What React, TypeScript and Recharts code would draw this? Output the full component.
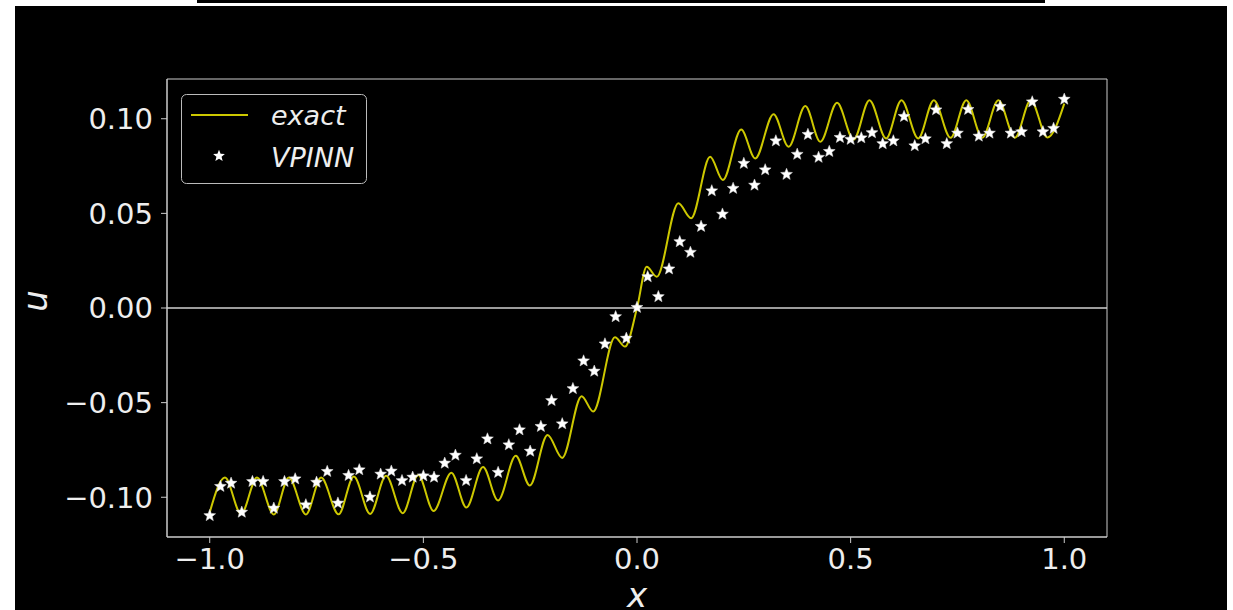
import React from "react";
import {
  ComposedChart,
  Line,
  Scatter,
  XAxis,
  YAxis,
  ReferenceLine,
  ReferenceArea,
  Legend,
  Label,
} from "recharts";

// exact solution: at its peaks and troughs
const exactX = [
  -1.0, -0.9644, -0.9266, -0.8894, -0.85, -0.8147, -0.7749, -0.7393, -0.6984, -0.6628,
  -0.6245, -0.5874, -0.5482, -0.5121, -0.476, -0.4345, -0.3993, -0.3604, -0.3252, -0.2837,
  -0.2509, -0.2094, -0.1751, -0.1297, -0.1025, -0.0516, -0.0281, 0.0, 0.0227, 0.0462,
  0.0968, 0.1266, 0.1712, 0.2009, 0.2438, 0.2767, 0.3196, 0.3548, 0.3939, 0.4291,
  0.4682, 0.507, 0.544, 0.5831, 0.619, 0.6582, 0.6947, 0.7339, 0.7707, 0.8082,
  0.8457, 0.8847, 0.9215, 0.9606, 1.0,
];
const exactU = [
  -0.108, -0.0896, -0.1088, -0.0896, -0.1091, -0.0896, -0.1091, -0.0896, -0.109, -0.089,
  -0.1088, -0.0887, -0.1084, -0.0882, -0.1072, -0.087, -0.1054, -0.084, -0.1017, -0.0781,
  -0.0938, -0.0671, -0.0792, -0.0466, -0.0547, -0.0155, -0.0204, 0.0, 0.0218, 0.0165,
  0.0553, 0.0474, 0.0799, 0.0676, 0.0943, 0.079, 0.1024, 0.0852, 0.1067, 0.0878,
  0.1084, 0.089, 0.1098, 0.0896, 0.1098, 0.0896, 0.1098, 0.0899, 0.1098, 0.09,
  0.1098, 0.09, 0.1098, 0.0901, 0.108,
];

// VPINN points
const vpinnX = [
  -1.0, -0.975, -0.95, -0.925, -0.9, -0.875, -0.85, -0.825, -0.8, -0.775,
  -0.75, -0.725, -0.7, -0.675, -0.65, -0.625, -0.6, -0.575, -0.55, -0.525,
  -0.5, -0.475, -0.45, -0.425, -0.4, -0.375, -0.35, -0.325, -0.3, -0.275,
  -0.25, -0.225, -0.2, -0.175, -0.15, -0.125, -0.1, -0.075, -0.05, -0.025,
  0.0, 0.025, 0.05, 0.075, 0.1, 0.125, 0.15, 0.175, 0.2, 0.225,
  0.25, 0.275, 0.3, 0.325, 0.35, 0.375, 0.4, 0.425, 0.45, 0.475,
  0.5, 0.525, 0.55, 0.575, 0.6, 0.625, 0.65, 0.675, 0.7, 0.725,
  0.75, 0.775, 0.8, 0.825, 0.85, 0.875, 0.9, 0.925, 0.95, 0.975, 1.0,
];
const vpinnU = [
  -0.1097, -0.0943, -0.0926, -0.1079, -0.0917, -0.0917, -0.1058, -0.0917, -0.0903, -0.104,
  -0.0921, -0.0864, -0.1031, -0.0885, -0.0855, -0.0999, -0.0878, -0.0862, -0.0912, -0.0894,
  -0.0887, -0.0894, -0.082, -0.0778, -0.0912, -0.0797, -0.0692, -0.0869, -0.0723, -0.0644,
  -0.0757, -0.0626, -0.0489, -0.0612, -0.0426, -0.028, -0.0334, -0.019, -0.0046, -0.016,
  0.0003, 0.0165, 0.006, 0.0206, 0.035, 0.0294, 0.0431, 0.0619, 0.0496, 0.0632,
  0.0764, 0.0649, 0.073, 0.0883, 0.0706, 0.0812, 0.0917, 0.0796, 0.0827, 0.0901,
  0.0891, 0.0899, 0.0926, 0.0868, 0.0883, 0.1012, 0.0857, 0.0894, 0.1047, 0.0868,
  0.0924, 0.1049, 0.0908, 0.0924, 0.1065, 0.0924, 0.0931, 0.1089, 0.0931, 0.0949, 0.1103,
];

const xTicks = [-1, -0.5, 0, 0.5, 1];
const yTicks = [-0.1, -0.05, 0, 0.05, 0.1];

const exactData = exactX.map((x, i) => ({ x, u: exactU[i] }));
const vpinnData = vpinnX.map((x, i) => ({ x, u: vpinnU[i] }));

const FONT = "'DejaVu Sans', sans-serif";
const YELLOW = "#cdc800";
const FG = "#eeeeee";
const minus = (s: string) => s.replace("-", "\u2212");

function starPath(cx: number, cy: number, r1 = 6.2, r2 = 2.7) {
  let d = "";
  for (let k = 0; k < 10; k++) {
    const r = k % 2 === 0 ? r1 : r2;
    const a = -Math.PI / 2 + (k * Math.PI) / 5;
    d += (k === 0 ? "M" : "L") + (cx + r * Math.cos(a)).toFixed(2) + "," + (cy + r * Math.sin(a)).toFixed(2);
  }
  return d + "Z";
}

const LegendBox = () => (
  <svg width={186} height={90} style={{ display: "block" }}>
    <rect x={0.5} y={0.5} width={185} height={89} rx={5} fill="#000" stroke="#bbb" strokeWidth={1} />
    <line x1={10} x2={67} y1={21} y2={21} stroke={YELLOW} strokeWidth={2} />
    <path d={starPath(38, 62)} fill="#fff" />
    <text x={90} y={31} fill={FG} fontFamily={FONT} fontStyle="italic" fontSize={27}>exact</text>
    <text x={90} y={73} fill={FG} fontFamily={FONT} fontStyle="italic" fontSize={27}>VPINN</text>
  </svg>
);

export default function App() {
  const tickStyle = { fill: FG, fontSize: 29, fontFamily: FONT };
  return (
    <div style={{ position: "absolute", left: 0, top: 0, width: 1233, height: 610, background: "#fff", overflow: "hidden" }}>
      <div style={{ position: "absolute", left: 197, top: 0, width: 848, height: 3, background: "#000" }} />
      <div style={{ position: "absolute", left: 15, top: 6, width: 1212, height: 604, background: "#000" }}>
        <ComposedChart width={1212} height={604} margin={{ top: 73, right: 120, bottom: 0, left: 0 }}>
          <XAxis
            type="number"
            dataKey="x"
            domain={[-1.1, 1.1]}
            ticks={xTicks}
            interval={0}
            allowDataOverflow
            tickFormatter={(v: number) => minus(v.toFixed(1))}
            tick={tickStyle}
            axisLine={{ stroke: "#ccc" }}
            tickLine={{ stroke: "#ccc" }}
            tickSize={6}
            tickMargin={5}
            height={73}
          >
            <Label
              content={({ viewBox }: any) => (
                <text
                  x={viewBox.x + viewBox.width / 2}
                  y={viewBox.y + 70}
                  textAnchor="middle"
                  fill={FG}
                  fontFamily={FONT}
                  fontStyle="italic"
                  fontSize={34}
                >
                  x
                </text>
              )}
            />
          </XAxis>
          <YAxis
            type="number"
            domain={[-0.121, 0.121]}
            ticks={yTicks}
            interval={0}
            allowDataOverflow
            tickFormatter={(v: number) => minus(v.toFixed(2))}
            tick={tickStyle}
            axisLine={{ stroke: "#ccc" }}
            tickLine={{ stroke: "#ccc" }}
            tickSize={6}
            tickMargin={8}
            width={152}
          >
            <Label
              content={({ viewBox }: any) => {
                const lx = viewBox.x + 32;
                const ly = viewBox.y + viewBox.height / 2 - 7;
                return (
                  <text
                    x={lx}
                    y={ly}
                    transform={`rotate(-90, ${lx}, ${ly})`}
                    textAnchor="middle"
                    fill={FG}
                    fontFamily={FONT}
                    fontStyle="italic"
                    fontSize={34}
                  >
                    u
                  </text>
                );
              }}
            />
          </YAxis>
          <ReferenceArea x1={-1.1} x2={1.1} y1={-0.121} y2={0.121} fill="none" stroke="#ccc" strokeWidth={1} />
          <ReferenceLine y={0} stroke="#d0d0d0" strokeWidth={1.5} />
          <Line
            data={exactData}
            dataKey="u"
            type="monotone"
            stroke={YELLOW}
            strokeWidth={2}
            dot={false}
            isAnimationActive={false}
            name="exact"
          />
          <Scatter
            data={vpinnData}
            dataKey="u"
            fill="#fff"
            isAnimationActive={false}
            name="VPINN"
            shape={(p: any) => <path d={starPath(p.cx, p.cy)} fill="#fff" stroke="#ddd" strokeWidth={0.5} />}
          />
          <Legend
            layout="horizontal"
            verticalAlign="middle"
            align="center"
            content={() => <LegendBox />}
            wrapperStyle={{ position: "absolute", left: 166, top: 88, width: 186, height: 90 }}
          />
        </ComposedChart>
      </div>
    </div>
  );
}
